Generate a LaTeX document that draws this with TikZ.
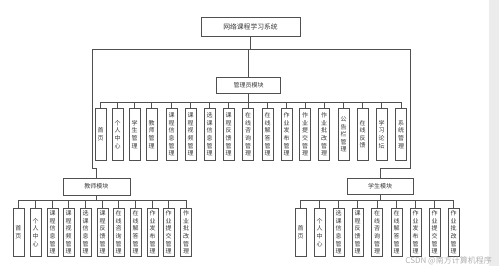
\documentclass[tikz,border=0pt]{standalone}
\usepackage{fontspec}
\usepackage{xcolor}
\usepackage{tikz}
\usetikzlibrary{positioning,calc}
\newfontfamily\cjk{Noto Sans CJK SC}
\definecolor{linegray}{RGB}{80,80,80}
\definecolor{textgray}{RGB}{55,55,55}
\definecolor{stripgray}{RGB}{236,236,236}
\definecolor{markgray}{RGB}{175,175,175}

\tikzset{
  modbox/.style={draw=linegray, line width=0.6pt, inner sep=0pt, text=textgray, font=\cjk\fontsize{6}{7}\selectfont},
  leafbox/.style={draw=linegray, line width=0.6pt, minimum width=11pt, inner sep=1pt, anchor=north, align=center, text=textgray, font=\cjk\fontsize{6}{7.6}\selectfont},
  link/.style={draw=linegray, line width=0.6pt}
}

\begin{document}
\begin{tikzpicture}[x=1pt,y=-1pt]
  \useasboundingbox (0,0) rectangle (499,266);
  \fill[stripgray] (489,0) rectangle (499,266);

  % top level and the three modules
  \node[modbox, minimum width=99pt, minimum height=19pt, font=\cjk\fontsize{6.8}{8}\selectfont] (sys) at (250.5,26.5) {网络课程学习系统};
  \node[modbox, minimum width=64pt, minimum height=16pt] (admin) at (248.5,85) {管理员模块};
  \node[modbox, minimum width=67pt, minimum height=17pt] (teacher) at (96.5,186.5) {教师模块};
  \node[modbox, minimum width=66pt, minimum height=16pt] (student) at (380,186) {学生模块};

  \coordinate (barL) at (92,49);
  \coordinate (barR) at (410,49);
  \draw[link] (sys.south) -- (sys.south |- barL);
  \draw[link] (barL) -- (barR);
  \draw[link] (admin.north) -- (admin.north |- barL);
  \draw[link] (barL) -- ++(0,119) -| (teacher.north);
  \draw[link] (barR) -- ++(0,119) -| (student.north);

  % admin leaves
  \foreach \x/\t [count=\n] in {100.5/{首\\页}, 117.5/{个\\人\\中\\心}, 134.5/{学\\生\\管\\理}, 151.5/{教\\师\\管\\理},
      171.5/{课\\程\\信\\息\\管\\理}, 190.5/{课\\程\\视\\频\\管\\理}, 209.5/{选\\课\\信\\息\\管\\理}, 228.5/{课\\程\\反\\馈\\管\\理},
      248/{在\\线\\咨\\询\\管\\理}, 267.5/{在\\线\\解\\答\\管\\理}, 286.5/{作\\业\\发\\布\\管\\理}, 305/{作\\业\\提\\交\\管\\理},
      324/{作\\业\\批\\改\\管\\理}, 343.5/{公\\告\\栏\\管\\理}, 362.5/{在\\线\\反\\馈}, 381.5/{学\\习\\论\\坛}, 401/{系\\统\\管\\理}} {
    \node[leafbox, minimum height=52pt] (a\n) at (\x,108) {\t};
    \draw[link] (a\n.north) -- ++(0,-6) coordinate (abus\n);
  }
  \draw[link] (abus1) -- (abus17);
  \draw[link] (admin.south) -- (admin.south |- abus1);

  % teacher leaves
  \foreach \x/\t [count=\n] in {18.5/{首\\页}, 35.5/{个\\人\\中\\心}, 52.5/{课\\程\\信\\息\\管\\理}, 68.5/{课\\程\\视\\频\\管\\理},
      85.5/{选\\课\\信\\息\\管\\理}, 102.5/{课\\程\\反\\馈\\管\\理}, 118.5/{在\\线\\咨\\询\\管\\理}, 135.5/{在\\线\\解\\答\\管\\理},
      152.5/{作\\业\\发\\布\\管\\理}, 168.5/{作\\业\\提\\交\\管\\理}, 186/{作\\业\\批\\改\\管\\理}} {
    \node[leafbox, minimum height=48pt] (t\n) at (\x,208) {\t};
    \draw[link] (t\n.north) -- ++(0,-8) coordinate (tbus\n);
  }
  \draw[link] (tbus1) -- (tbus11);
  \draw[link] (teacher.south) -- (teacher.south |- tbus1);

  % student leaves
  \foreach \x/\t [count=\n] in {300.5/{首\\页}, 319.5/{个\\人\\中\\心}, 338.5/{选\\课\\信\\息\\管\\理}, 357.5/{课\\程\\反\\馈\\管\\理},
      377/{在\\线\\咨\\询\\管\\理}, 396.5/{在\\线\\解\\答\\管\\理}, 415.5/{作\\业\\发\\布\\管\\理}, 434.5/{作\\业\\提\\交\\管\\理},
      453.5/{作\\业\\批\\改\\管\\理}} {
    \node[leafbox, minimum height=48pt] (s\n) at (\x,208) {\t};
    \draw[link] (s\n.north) -- ++(0,-8) coordinate (sbus\n);
  }
  \draw[link] (sbus1) -- (sbus9);
  \draw[link] (student.south) -- (student.south |- sbus1);

  \node[anchor=east, inner sep=0pt, text=markgray, font=\cjk\fontsize{8}{9}\selectfont] (mark) at (492,260.5) {CSDN @南方计算机程序};
\end{tikzpicture}
\end{document}
